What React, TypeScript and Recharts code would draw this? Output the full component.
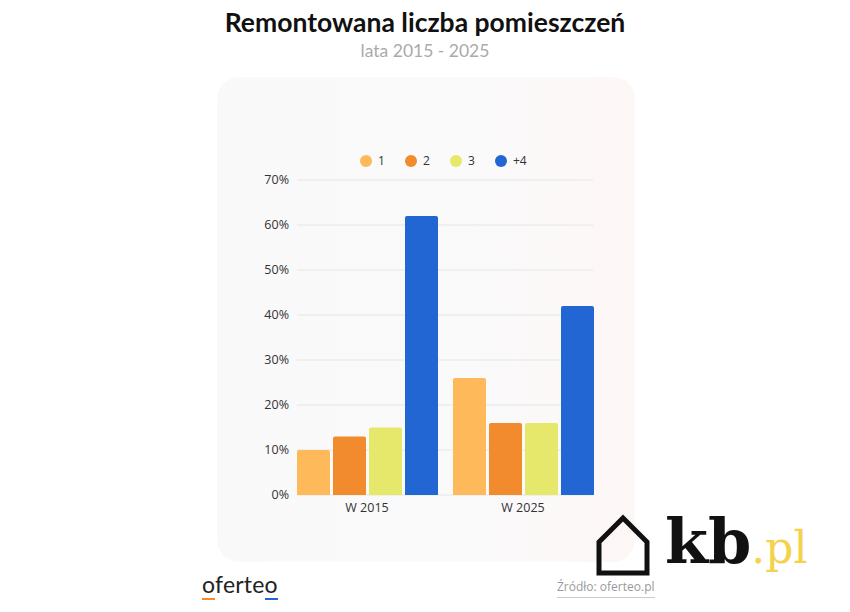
import { BarChart, Bar, XAxis, YAxis, CartesianGrid } from 'recharts';

const categories = ['W 2015', 'W 2025'];
const seriesNames = ['1', '2', '3', '+4'];
const series1 = [10, 26];
const series2 = [13, 16];
const series3 = [15, 16];
const series4 = [62, 42];
const yTicks = [0, 10, 20, 30, 40, 50, 60, 70];

const COLORS = ['#FDB95A', '#F28A2E', '#E6E86C', '#2266D4'];
const seriesValues = [series1, series2, series3, series4];

const data = categories.map((name, i) => {
  const row: any = { name };
  seriesNames.forEach((s, j) => {
    row[s] = seriesValues[j][i];
  });
  return row;
});

const font = "'Open Sans', 'DejaVu Sans', sans-serif";

function App() {
  return (
    <div style={{ position: 'absolute', left: 0, top: 0, width: 850, height: 612, background: '#fff', overflow: 'hidden', fontFamily: font }}>
      {/* Title */}
      <div style={{ position: 'absolute', top: 6, width: 850, textAlign: 'center', fontFamily: 'Lato, sans-serif', fontWeight: 700, fontSize: 26.5, color: '#111' }}>
        Remontowana liczba pomieszczeń
      </div>
      <div style={{ position: 'absolute', top: 40, width: 850, textAlign: 'center', fontFamily: 'Lato, sans-serif', fontSize: 17.5, color: '#aaa' }}>
        lata 2015 - 2025
      </div>

      {/* Card */}
      <div style={{ position: 'absolute', left: 217, top: 77, width: 418, height: 485, borderRadius: 22, background: 'linear-gradient(90deg, #f9f9f9 0%, #fafafa 60%, #fdf7f6 100%)' }} />

      {/* Legend */}
      <div style={{ position: 'absolute', top: 152, left: 360, display: 'flex', fontSize: 12, color: '#333' }}>
        {seriesNames.map((s, i) => (
          <div key={s} style={{ display: 'flex', alignItems: 'center', width: 45 }}>
            <span style={{ width: 12, height: 12, borderRadius: 6, background: COLORS[i], marginRight: 6, display: 'inline-block' }} />
            <span>{s}</span>
          </div>
        ))}
      </div>

      <div style={{ position: 'absolute', left: 0, top: 0 }}>
        <BarChart
          width={850}
          height={612}
          data={data}
          margin={{ top: 180, right: 249, bottom: 87, left: 229 }}
          barCategoryGap={8}
          barGap={3}
        >
          <CartesianGrid
            vertical={false}
            horizontal={(p: any) => (
              <line key={`g-${p.index}-${p.y1}`} x1={p.x1 + 8} x2={p.x2 - 8} y1={p.y1} y2={p.y2} stroke="#e6e6e6" strokeWidth={1} />
            )}
          />
          <XAxis
            dataKey="name"
            axisLine={false}
            tickLine={false}
            height={30}
            tick={{ fill: '#333', fontSize: 12.5, fontFamily: font }}
            tickMargin={2}
          />
          <YAxis
            width={60}
            domain={[0, 70]}
            ticks={yTicks}
            axisLine={false}
            tickLine={false}
            tickSize={0}
            tickMargin={0}
            tickFormatter={(v) => `${v}%`}
            tick={{ fill: '#333', fontSize: 12.5, fontFamily: font }}
          />
          {seriesNames.map((s, i) => (
            <Bar key={s} dataKey={s} fill={COLORS[i]} radius={[2, 2, 0, 0]} isAnimationActive={false} />
          ))}
        </BarChart>
      </div>

      {/* Footer */}
      <div style={{ position: 'absolute', left: 202, top: 570, fontFamily: 'Lato, sans-serif', fontSize: 23, color: '#222', letterSpacing: 0.2 }}>
        <span style={{ borderBottom: '2px solid #F28A2E' }}>o</span>ferte<span style={{ borderBottom: '2px solid #2266D4' }}>o</span>
      </div>
      <div style={{ position: 'absolute', left: 557, top: 578, fontSize: 12, color: '#999', borderBottom: '1px solid #ccc', paddingBottom: 2 }}>
        Źródło: oferteo.pl
      </div>

      {/* kb.pl logo */}
      <svg style={{ position: 'absolute', left: 594, top: 512 }} width={60} height={66}>
        <path d="M5 30 L29 6 L53 30 L53 61 L5 61 Z" fill="none" stroke="#111" strokeWidth={5} strokeLinejoin="miter" />
      </svg>
      <div style={{ position: 'absolute', left: 665, top: 499, fontFamily: "'DejaVu Serif', 'Liberation Serif', serif", fontWeight: 700, fontSize: 62, color: '#111', lineHeight: '86px', whiteSpace: 'nowrap' }}>
        kb<span style={{ color: '#F5D24C', fontWeight: 400, fontSize: 44 }}>.pl</span>
      </div>
    </div>
  );
}

export default App;
